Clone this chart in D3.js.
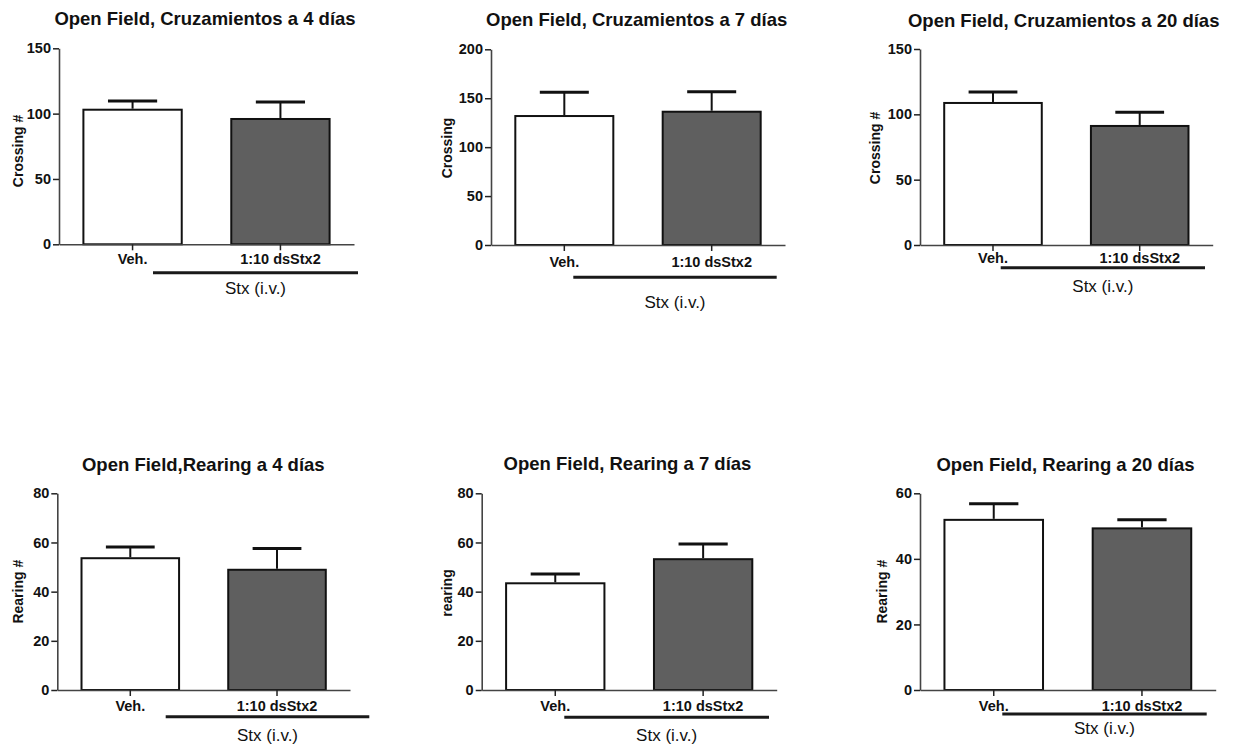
<!DOCTYPE html>
<html>
<head>
<meta charset="utf-8">
<script src="https://cdn.jsdelivr.net/npm/d3@7"></script>
<style>
  body { margin: 0; background: #fff; }
  svg { display: block; }
  text { font-family: "Liberation Sans", Arial, Helvetica, sans-serif; fill: #111; }
</style>
</head>
<body>
<svg id="chart" width="1236" height="745"></svg>
<script>
// ---- data ----
const categories = ["Veh.", "1:10 dsStx2"];
const titles = [
  "Open Field, Cruzamientos a 4 días",
  "Open Field, Cruzamientos a 7 días",
  "Open Field, Cruzamientos a 20 días",
  "Open Field,Rearing a 4 días",
  "Open Field, Rearing a 7 días",
  "Open Field, Rearing a 20 días"
];
const yLabels = ["Crossing #", "Crossing", "Crossing #", "Rearing #", "rearing", "Rearing #"];
const yMax = [150, 200, 150, 80, 80, 60];
const yTicks = [
  [0, 50, 100, 150],
  [0, 50, 100, 150, 200],
  [0, 50, 100, 150],
  [0, 20, 40, 60, 80],
  [0, 20, 40, 60, 80],
  [0, 20, 40, 60]
];
const vehMean = [103, 131.8, 108.7, 53.6, 43.4, 51.9];
const vehSem  = [6.7, 24.2, 8.4, 4.6, 3.8, 4.9];
const stxMean = [95.9, 136.2, 91.1, 48.9, 53.2, 49.3];
const stxSem  = [13, 20.5, 10.5, 8.6, 6.2, 2.6];
const groupLabel = "Stx (i.v.)";

// ---- panel placement ----
const layout = [
  { x0: 59,    x1: 354,    yTop: 48.3,  yZero: 244.3, lx0: 153,    lx1: 358,    ly: 272.7, gy: 288,   cy: 259,   tx: 205,    ty: 25,   yx: 18,    yy: 151 },
  { x0: 491,   x1: 785,    yTop: 49.3,  yZero: 245,   lx0: 573.3,  lx1: 776.7,  ly: 277.3, gy: 301.7, cy: 261.7, tx: 636.7,  ty: 26,   yx: 446.7, yy: 148 },
  { x0: 920,   x1: 1212.7, yTop: 49,    yZero: 245,   lx0: 1000.7, lx1: 1205,   ly: 267.7, gy: 286,   cy: 258.3, tx: 1063.7, ty: 26.7, yx: 875,   yy: 148 },
  { x0: 57.3,  x1: 350,    yTop: 493.3, yZero: 690,   lx0: 165.7,  lx1: 369.3,  ly: 716.7, gy: 735,   cy: 705.7, tx: 203.3,  ty: 471,  yx: 18.3,  yy: 591.7 },
  { x0: 481.7, x1: 776.7,  yTop: 493.3, yZero: 690,   lx0: 564.3,  lx1: 769,    ly: 717.3, gy: 735,   cy: 705.7, tx: 627.5,  ty: 470,  yx: 447.3, yy: 593 },
  { x0: 920,   x1: 1215.7, yTop: 493.3, yZero: 690,   lx0: 1002.3, lx1: 1206.7, ly: 714,   gy: 728.3, cy: 705.7, tx: 1065.5, ty: 471,  yx: 881.7, yy: 591.7 }
];

const fills = ["#ffffff", "#5f5f5f"];
const svg = d3.select("#chart");

layout.forEach((L, i) => {
  const g = svg.append("g");
  const rows = categories.map((c, k) => ({
    cat: c,
    mean: k === 0 ? vehMean[i] : stxMean[i],
    sem:  k === 0 ? vehSem[i]  : stxSem[i],
    fill: fills[k]
  }));

  const x = d3.scaleBand().domain(categories).range([L.x0, L.x1])
    .paddingInner(0.335).paddingOuter(0.165);
  const y = d3.scaleLinear().domain([0, yMax[i]]).range([L.yZero, L.yTop]);

  // bars
  g.selectAll("rect.bar").data(rows).join("rect")
    .attr("class", "bar")
    .attr("x", d => x(d.cat))
    .attr("width", x.bandwidth())
    .attr("y", d => y(d.mean))
    .attr("height", d => y(0) - y(d.mean))
    .attr("fill", d => d.fill)
    .attr("stroke", "#111")
    .attr("stroke-width", 2);

  // error bars (upper only)
  const cx = d => x(d.cat) + x.bandwidth() / 2;
  g.selectAll("line.stem").data(rows).join("line")
    .attr("x1", cx).attr("x2", cx)
    .attr("y1", d => y(d.mean) - 1).attr("y2", d => y(d.mean + d.sem))
    .attr("stroke", "#111").attr("stroke-width", 2);
  g.selectAll("line.cap").data(rows).join("line")
    .attr("x1", d => cx(d) - x.bandwidth() / 4)
    .attr("x2", d => cx(d) + x.bandwidth() / 4)
    .attr("y1", d => y(d.mean + d.sem)).attr("y2", d => y(d.mean + d.sem))
    .attr("stroke", "#111").attr("stroke-width", 3);

  // y axis
  const ya = g.append("g").attr("transform", `translate(${L.x0},0)`)
    .call(d3.axisLeft(y).tickValues(yTicks[i]).tickSize(6).tickSizeOuter(0).tickPadding(2));
  ya.select(".domain").attr("stroke", "#444").attr("stroke-width", 1.6);
  ya.selectAll(".tick line").attr("stroke", "#222").attr("stroke-width", 1.5);
  ya.selectAll(".tick text")
    .attr("font-size", 14.5).attr("font-weight", "bold")
    .attr("font-family", "Liberation Sans, Arial, sans-serif").attr("fill", "#111");

  // x axis
  const xa = g.append("g").attr("transform", `translate(0,${L.yZero})`)
    .call(d3.axisBottom(x).tickSize(6).tickSizeOuter(0).tickPadding(0));
  xa.select(".domain").attr("stroke", "#444").attr("stroke-width", 1.6);
  xa.selectAll(".tick line").attr("stroke", "#222").attr("stroke-width", 1.5);
  xa.selectAll(".tick text")
    .attr("y", L.cy - L.yZero).attr("dy", "0.35em")
    .attr("font-size", 14.5).attr("font-weight", "bold")
    .attr("font-family", "Liberation Sans, Arial, sans-serif").attr("fill", "#111");

  // treatment bracket
  g.append("line")
    .attr("x1", L.lx0).attr("x2", L.lx1).attr("y1", L.ly).attr("y2", L.ly)
    .attr("stroke", "#1a1a1a").attr("stroke-width", 3);
  g.append("text")
    .attr("x", (L.lx0 + L.lx1) / 2).attr("y", L.gy).attr("dy", "0.35em")
    .attr("text-anchor", "middle").attr("font-size", 17)
    .text(groupLabel);

  // title
  g.append("text")
    .attr("x", L.tx).attr("y", L.ty)
    .attr("text-anchor", "middle").attr("font-size", 18.5).attr("font-weight", "bold")
    .text(titles[i]);

  // y label
  g.append("text")
    .attr("transform", `translate(${L.yx},${L.yy}) rotate(-90)`)
    .attr("text-anchor", "middle").attr("dy", "0.35em")
    .attr("font-size", 14).attr("font-weight", "bold")
    .text(yLabels[i]);
});
</script>
</body>
</html>
